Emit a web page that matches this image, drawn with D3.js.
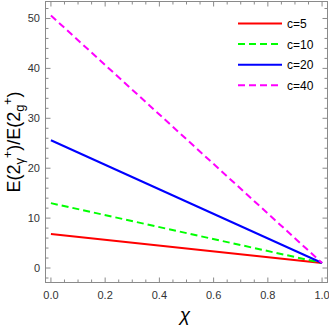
<!DOCTYPE html>
<html><head><meta charset="utf-8">
<script src="https://cdnjs.cloudflare.com/ajax/libs/d3/7.8.5/d3.min.js"></script>
<style>body{margin:0;background:#fff}svg{display:block}</style>
</head><body>
<svg id="c" width="329" height="327"></svg>
<script>
const chiValues = [0, 1];
const seriesNames = ["c=5", "c=10", "c=20", "c=40"];
const c5 = [6.8, 1.0];
const c10 = [13.0, 1.0];
const c20 = [25.6, 1.0];
const c40 = [50.6, 1.0];
const seriesColors = ["#ff0000", "#00ff00", "#0000ff", "#ff00ff"];
const seriesDashed = [false, true, false, true];
const xTickLabels = ["0.0", "0.2", "0.4", "0.6", "0.8", "1.0"];
const yTickLabels = ["0", "10", "20", "30", "40", "50"];

const allSeries = [c5, c10, c20, c40];
const svg = d3.select("#c");
const L = 45.5, R = 327.5, T = 1.5, B = 282.5;
const x = d3.scaleLinear().domain([-0.02, 1.02]).range([L, R]);
const y = d3.scaleLinear().domain([-2.9, 53.4]).range([B, T]);

const frameColor = "#8a8a8a";
const tickText = "#333";

// ticks
const xMajor = xTickLabels.map(Number);
const xMinor = d3.range(0, 1.0001, 0.05).filter(v => Math.abs(v*5 - Math.round(v*5)) > 1e-6);
const yMajor = yTickLabels.map(Number);
const yMinor = d3.range(-2, 53, 2).filter(v => v % 10 !== 0);

const g = svg.append("g");
function xt(v, len){
  g.append("line").attr("x1", x(v)).attr("x2", x(v)).attr("y1", B).attr("y2", B-len).attr("stroke", frameColor).attr("stroke-width", 1);
  g.append("line").attr("x1", x(v)).attr("x2", x(v)).attr("y1", T).attr("y2", T+len).attr("stroke", frameColor).attr("stroke-width", 1);
}
function yt(v, len){
  g.append("line").attr("y1", y(v)).attr("y2", y(v)).attr("x1", L).attr("x2", L+len).attr("stroke", frameColor).attr("stroke-width", 1);
  g.append("line").attr("y1", y(v)).attr("y2", y(v)).attr("x1", R).attr("x2", R-len).attr("stroke", frameColor).attr("stroke-width", 1);
}
xMajor.forEach(v => xt(v, 5));
xMinor.forEach(v => xt(v, 3));
yMajor.forEach(v => yt(v, 5));
yMinor.forEach(v => yt(v, 3));

g.append("rect").attr("x", L).attr("y", T).attr("width", R-L).attr("height", B-T)
  .attr("fill", "none").attr("stroke", frameColor).attr("stroke-width", 1);

// tick labels
xTickLabels.forEach(t => {
  svg.append("text").attr("x", x(+t)).attr("y", 299).attr("text-anchor", "middle")
    .attr("font-family", "Liberation Sans, Arial, sans-serif").attr("font-size", 11).attr("fill", tickText).text(t);
});
yTickLabels.forEach(t => {
  svg.append("text").attr("x", 40).attr("y", y(+t) + 4).attr("text-anchor", "end")
    .attr("font-family", "Liberation Sans, Arial, sans-serif").attr("font-size", 11).attr("fill", tickText).text(t);
});

// series lines
const line = d3.line().x((d, i) => x(chiValues[i])).y(d => y(d));
allSeries.forEach((s, k) => {
  svg.append("path").datum(s).attr("d", line).attr("fill", "none")
    .attr("stroke", seriesColors[k]).attr("stroke-width", 2)
    .attr("stroke-dasharray", seriesDashed[k] ? "7,4" : null);
});

// legend
seriesNames.forEach((n, k) => {
  const ly = 23.5 + k * 20.6;
  svg.append("line").attr("x1", 238).attr("x2", 282).attr("y1", ly).attr("y2", ly)
    .attr("stroke", seriesColors[k]).attr("stroke-width", 2)
    .attr("stroke-dasharray", seriesDashed[k] ? "7,4" : null);
  svg.append("text").attr("x", 287).attr("y", ly + 4.5)
    .attr("font-family", "Liberation Sans, Arial, sans-serif").attr("font-size", 12).attr("fill", "#000").text(n);
});

// axis labels
const yl = svg.append("text").attr("transform", "translate(20,142) rotate(-90)")
  .attr("text-anchor", "middle").attr("font-family", "Liberation Sans, Arial, sans-serif")
  .attr("font-size", 18).attr("fill", "#000");
yl.append("tspan").text("E(2");
yl.append("tspan").attr("font-size", 13).attr("dy", 4).text("γ");
yl.append("tspan").attr("font-size", 12).attr("dy", -12).text("+");
yl.append("tspan").attr("dy", 8).text(")/E(2");
yl.append("tspan").attr("font-size", 13).attr("dy", 4).text("g");
yl.append("tspan").attr("font-size", 12).attr("dy", -12).text("+");
yl.append("tspan").attr("dy", 8).text(")");

svg.append("text").attr("x", 185).attr("y", 321).attr("text-anchor", "middle")
  .attr("font-family", "Liberation Sans, Arial, sans-serif").attr("font-style", "italic")
  .attr("font-size", 19).attr("fill", "#000").text("χ");
</script>
</body></html>
